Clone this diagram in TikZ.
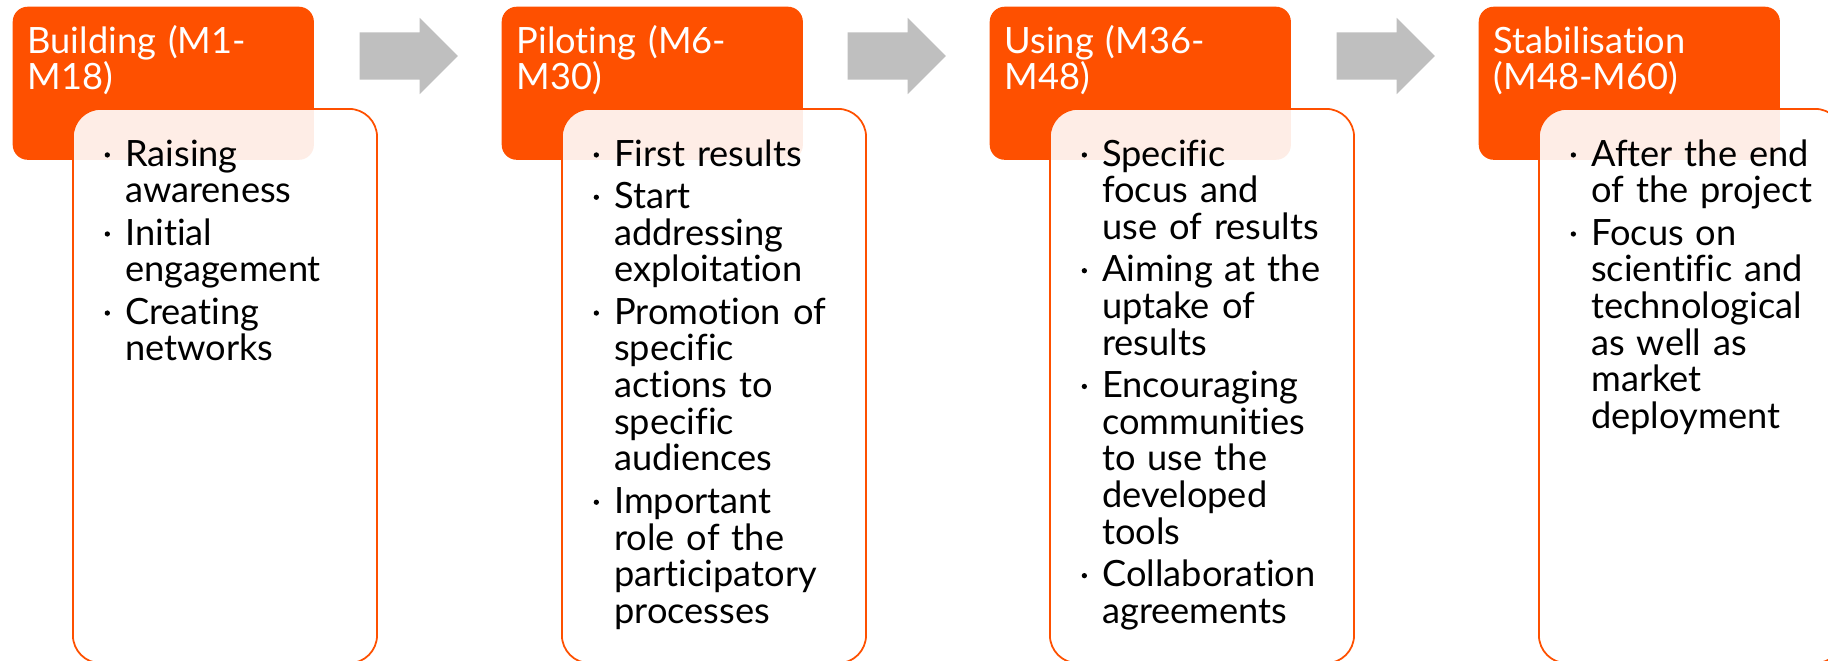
\documentclass[tikz,border=0pt]{standalone}
\usepackage{fontspec}
\setmainfont{Lato}[Ligatures=NoCommon]
\usetikzlibrary{shapes.arrows}
\definecolor{phaseorange}{HTML}{FE5000}
\definecolor{arrowgray}{HTML}{BFBFBF}
\newcommand{\itemdot}{\makebox[0.205cm][l]{\raisebox{2.4pt}{\tikz\fill (0,0) circle (0.75pt);}}}
\newcommand{\itemgap}{\hspace*{0.205cm}}
\newcommand{\phasefont}{\fontsize{10.3pt}{10.44pt}\selectfont}

\begin{document}
\begin{tikzpicture}[x=0.01cm,y=-0.01cm,
    hdrbox/.style={anchor=north west,fill=phaseorange,rounded corners=0.15cm,
        minimum width=3.01cm,minimum height=1.53cm,inner sep=0},
    bodybox/.style={anchor=north west,draw=phaseorange,line width=0.5pt,
        fill=white,fill opacity=0.9,rounded corners=0.28cm,
        minimum width=3.04cm,minimum height=5.54cm,inner sep=0},
    hdrtext/.style={anchor=base west,inner sep=0,text width=2.8cm,align=left,
        text=white,font=\phasefont},
    bodytext/.style={anchor=base west,inner sep=0,text width=2.8cm,align=left,
        text=black,font=\phasefont},
    nextarrow/.style={single arrow,anchor=tail,fill=arrowgray,inner xsep=0,
        inner ysep=0.23cm,single arrow head extend=0.145cm,minimum height=0.98cm}]
        \clip (0,0) rectangle (1828,660);

        % phase headers
        \node[hdrbox] (hdrA) at (12,6) {};
        \node[hdrbox] (hdrB) at (501,6) {};
        \node[hdrbox] (hdrC) at (989,6) {};
        \node[hdrbox] (hdrD) at (1478,6) {};

        \node[hdrtext] (titleA) at (27,53) {Building (M1-\\M18)};
        \node[hdrtext] (titleB) at (516,53) {Piloting (M6-\\M30)};
        \node[hdrtext] (titleC) at (1004,53) {Using (M36-\\M48)};
        \node[hdrtext] (titleD) at (1493,53) {Stabilisation\\(M48-M60)};

        % arrows between the phases
        \node[nextarrow] (arrAB) at (359,56) {};
        \node[nextarrow] (arrBC) at (847,56) {};
        \node[nextarrow] (arrCD) at (1336,56) {};

        % content boxes
        \node[bodybox] (boxA) at (72,108) {};
        \node[bodybox] (boxB) at (561,108) {};
        \node[bodybox] (boxC) at (1049,108) {};
        \node[bodybox] (boxD) at (1538,108) {};

        \node[bodytext] (listA) at (104,166) {\itemdot Raising\\ \itemgap awareness\\[1.6pt]
            \itemdot Initial\\ \itemgap engagement\\[1.6pt]
            \itemdot Creating\\ \itemgap networks};
        \node[bodytext] (listB) at (593,166) {\itemdot First results\\[1.6pt]
            \itemdot Start\\ \itemgap addressing\\ \itemgap exploitation\\[1.6pt]
            \itemdot Promotion of\\ \itemgap specific\\ \itemgap actions to\\ \itemgap specific\\ \itemgap audiences\\[1.6pt]
            \itemdot Important\\ \itemgap role of the\\ \itemgap participatory\\ \itemgap processes};
        \node[bodytext] (listC) at (1081,166) {\itemdot Specific\\ \itemgap focus and\\ \itemgap use of results\\[1.6pt]
            \itemdot Aiming at the\\ \itemgap uptake of\\ \itemgap results\\[1.6pt]
            \itemdot Encouraging\\ \itemgap communities\\ \itemgap to use the\\ \itemgap developed\\ \itemgap tools\\[1.6pt]
            \itemdot Collaboration\\ \itemgap agreements};
        \node[bodytext] (listD) at (1570,166) {\itemdot After the end\\ \itemgap of the project\\[1.6pt]
            \itemdot Focus on\\ \itemgap scientific and\\ \itemgap technological\\ \itemgap as well as\\ \itemgap market\\ \itemgap deployment};
\end{tikzpicture}
\end{document}
